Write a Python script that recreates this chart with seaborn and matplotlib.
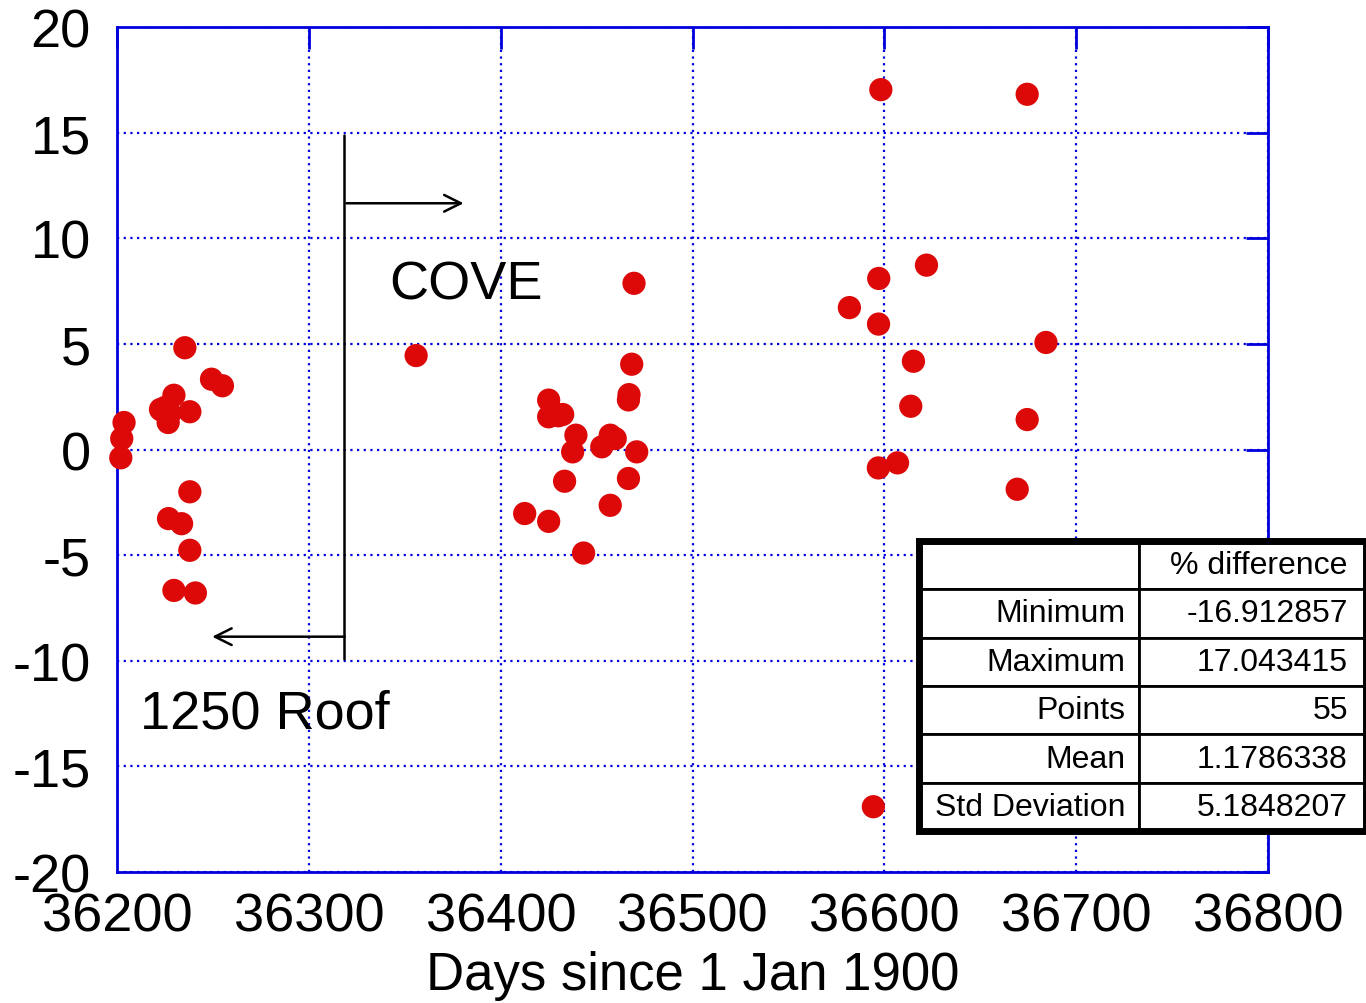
import numpy as np
import pandas as pd
import seaborn as sns
import matplotlib.pyplot as plt
from matplotlib.patches import Rectangle

# Data (day number, % difference)
days_1250 = [36235.2, 36249.1, 36254.8, 36229.5, 36223.1, 36227.4, 36226.5,
             36237.8, 36203.5, 36202.3, 36201.8, 36237.8, 36226.7, 36233.5,
             36237.8, 36229.5, 36240.7, 36225.0, 36222.5]
diff_1250 = [4.82, 3.33, 3.02, 2.57, 1.86, 1.71, 1.28,
             1.79, 1.28, 0.52, -0.39, -2.0, -3.27, -3.51,
             -4.77, -6.67, -6.79, 2.0, 1.9]

days_cove = [36355.8,
             36469.4, 36468.2, 36466.8, 36466.5, 36424.9, 36424.9, 36432.2,
             36439.1, 36437.4, 36457.0, 36459.6, 36452.6, 36470.8, 36433.2,
             36466.5, 36457.0, 36412.4, 36424.9, 36443.1, 36430.0,
             36598.1, 36674.4, 36621.9, 36597.0, 36581.7, 36596.9, 36684.2,
             36615.1, 36613.7, 36674.4, 36596.8, 36606.8, 36669.2, 36594.2]
diff_cove = [4.45,
             7.87, 4.04, 2.60, 2.35, 2.34, 1.55, 1.66,
             0.68, -0.11, 0.68, 0.52, 0.13, -0.11, -1.5,
             -1.37, -2.64, -3.03, -3.4, -4.9, 1.6,
             17.04, 16.82, 8.73, 8.10, 6.72, 5.94, 5.07,
             4.18, 2.05, 1.42, -0.87, -0.63, -1.88, -16.91]

stat_names = ["Minimum", "Maximum", "Points", "Mean", "Std Deviation"]
stat_values = ["-16.912857", "17.043415", "55", "1.1786338", "5.1848207"]

df = pd.DataFrame({"day": days_1250 + days_cove,
                   "diff": diff_1250 + diff_cove})

# Annotation geometry (data coords)
split_x = 36318
split_top, split_bottom = 14.9, -9.9
arrow_right = (36318, 11.66, 36382)
arrow_left = (36320, -8.86, 36248)

sns.set_style("white")
plt.rcParams["font.family"] = ["Liberation Sans", "DejaVu Sans"]
plt.rcParams["axes.unicode_minus"] = False
plt.rcParams["text.color"] = "black"
plt.rcParams["axes.labelcolor"] = "black"
plt.rcParams["xtick.labelcolor"] = "black"
plt.rcParams["ytick.labelcolor"] = "black"

fig = plt.figure(figsize=(13.66, 10.04), dpi=100)
ax = fig.add_axes([0.0859, 0.1305, 0.8424, 0.8415])

sns.scatterplot(data=df, x="day", y="diff", ax=ax, color="#dd0808",
                s=280, edgecolor="none", zorder=3, clip_on=False)

ax.set_xlim(36200, 36800)
ax.set_ylim(-20, 20)
ax.set_xticks(np.arange(36200, 36801, 100))
ax.set_yticks(np.arange(-20, 21, 5))
ax.grid(True, color="#0000dd", linestyle=(0, (1, 2)), linewidth=1.6)
for sp in ax.spines.values():
    sp.set_color("#0000dd")
    sp.set_linewidth(2)
ax.tick_params(direction="in", length=16, width=2, color="#0000dd",
               top=True, right=True, labelsize=39)
ax.tick_params(axis="y", pad=19)
ax.tick_params(axis="x", pad=14)
ax.set_xlabel("Days since 1 Jan 1900", fontsize=38, labelpad=6)
ax.set_ylabel("")

# Divider line and arrows
ax.plot([split_x, split_x], [split_top, split_bottom], color="black", lw=1.8)
ax.annotate("", xy=(arrow_right[2], arrow_right[1]),
            xytext=(arrow_right[0], arrow_right[1]),
            arrowprops=dict(arrowstyle="->", color="black", lw=1.8,
                            mutation_scale=30))
ax.annotate("", xy=(arrow_left[2], arrow_left[1]),
            xytext=(arrow_left[0], arrow_left[1]),
            arrowprops=dict(arrowstyle="->", color="black", lw=1.8,
                            mutation_scale=30))
ax.text(36342, 7.8, "COVE", fontsize=39, ha="left", va="center")
ax.text(36212, -12.5, "1250 Roof", fontsize=39, ha="left", va="center")

# Statistics table
tax = fig.add_axes([919 / 1366, 1 - 832 / 1004, 447 / 1366, 290 / 1004])
tax.set_axis_off()
cells = [["", "% difference"]] + [[n, v] for n, v in zip(stat_names, stat_values)]
tbl = tax.table(cellText=cells, bbox=[0, 0, 1, 1], colWidths=[0.492, 0.508],
                cellLoc="right")
tbl.auto_set_font_size(False)
for (r, c), cell in tbl.get_celld().items():
    cell.set_facecolor("white")
    cell.set_edgecolor("black")
    cell.set_linewidth(2)
    cell.get_text().set_fontsize(23)
    cell.get_text().set_color("black")
    cell.PAD = 0.06 if c == 0 else 0.08
tax.add_patch(Rectangle((0, 0), 1, 1, transform=tax.transAxes, fill=False,
                        edgecolor="black", linewidth=5, clip_on=False))

plt.savefig("out.png", dpi=100)
